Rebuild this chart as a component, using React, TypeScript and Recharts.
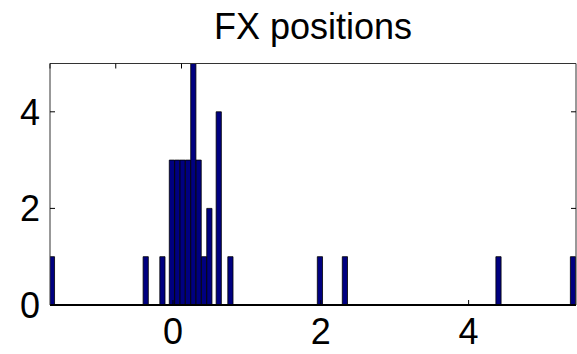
import { Bar, BarChart, XAxis, YAxis } from "recharts";

const NAVY = "#000080";
const FONT = "'Liberation Sans', Arial, sans-serif";

// bin centres of the non-empty histogram bins and their counts
const binCenters = [
  -1.637, -0.368, -0.142, -0.014, 0.059, 0.131, 0.204, 0.276, 0.348, 0.421,
  0.493, 0.62, 0.778, 1.989, 2.327, 4.405, 5.413,
];
const counts = [1, 1, 1, 3, 3, 3, 3, 5, 3, 1, 2, 4, 1, 1, 1, 1, 1];

const xTicks = [0, 2, 4];
const yTicks = [0, 2, 4];
const X_DOMAIN: [number, number] = [-1.664, 5.453];
const Y_DOMAIN: [number, number] = [0, 5];

const data = binCenters.map((x, i) => ({ x, count: counts[i] }));

const tickStyle = { fill: "#000", fontSize: 36, fontFamily: FONT };
const axisLine = { stroke: "#333", strokeWidth: 1 };
const blank = () => "";

export default function App() {
  return (
    <div
      style={{
        position: "fixed",
        left: 0,
        top: 0,
        width: 577,
        height: 354,
        background: "#fff",
      }}
    >
      <div
        style={{
          position: "absolute",
          left: 50,
          width: 526,
          top: 9,
          textAlign: "center",
          fontFamily: FONT,
          fontSize: 36,
          lineHeight: "36px",
          color: "#000",
        }}
      >
        FX positions
      </div>
      <BarChart
        width={577}
        height={354}
        data={data}
        margin={{ top: 0, right: 0, bottom: 0, left: 0 }}
      >
        <XAxis
          xAxisId="bottom"
          dataKey="x"
          type="number"
          domain={X_DOMAIN}
          allowDataOverflow
          ticks={xTicks}
          height={49}
          tickSize={-5}
          tickMargin={18}
          tick={tickStyle}
          axisLine={{ stroke: "#000", strokeWidth: 2 }}
          tickLine={{ stroke: "#000" }}
        />
        <XAxis
          xAxisId="top"
          orientation="top"
          type="number"
          domain={X_DOMAIN}
          allowDataOverflow
          ticks={xTicks}
          height={63.5}
          tickSize={-5}
          tickFormatter={blank}
          axisLine={axisLine}
          tickLine={{ stroke: "#000" }}
        />
        <YAxis
          yAxisId="left"
          type="number"
          domain={Y_DOMAIN}
          allowDataOverflow
          ticks={yTicks}
          width={50}
          tickSize={-5}
          tickMargin={15}
          tick={tickStyle}
          axisLine={axisLine}
          tickLine={{ stroke: "#000" }}
        />
        <YAxis
          yAxisId="right"
          orientation="right"
          type="number"
          domain={Y_DOMAIN}
          allowDataOverflow
          ticks={yTicks}
          width={1}
          tickSize={-5}
          tickFormatter={blank}
          axisLine={axisLine}
          tickLine={{ stroke: "#000" }}
        />
        <Bar
          xAxisId="bottom"
          yAxisId="left"
          dataKey="count"
          fill={NAVY}
          stroke="#000"
          strokeWidth={0.8}
          barSize={5.2}
          isAnimationActive={false}
        />
      </BarChart>
    </div>
  );
}
